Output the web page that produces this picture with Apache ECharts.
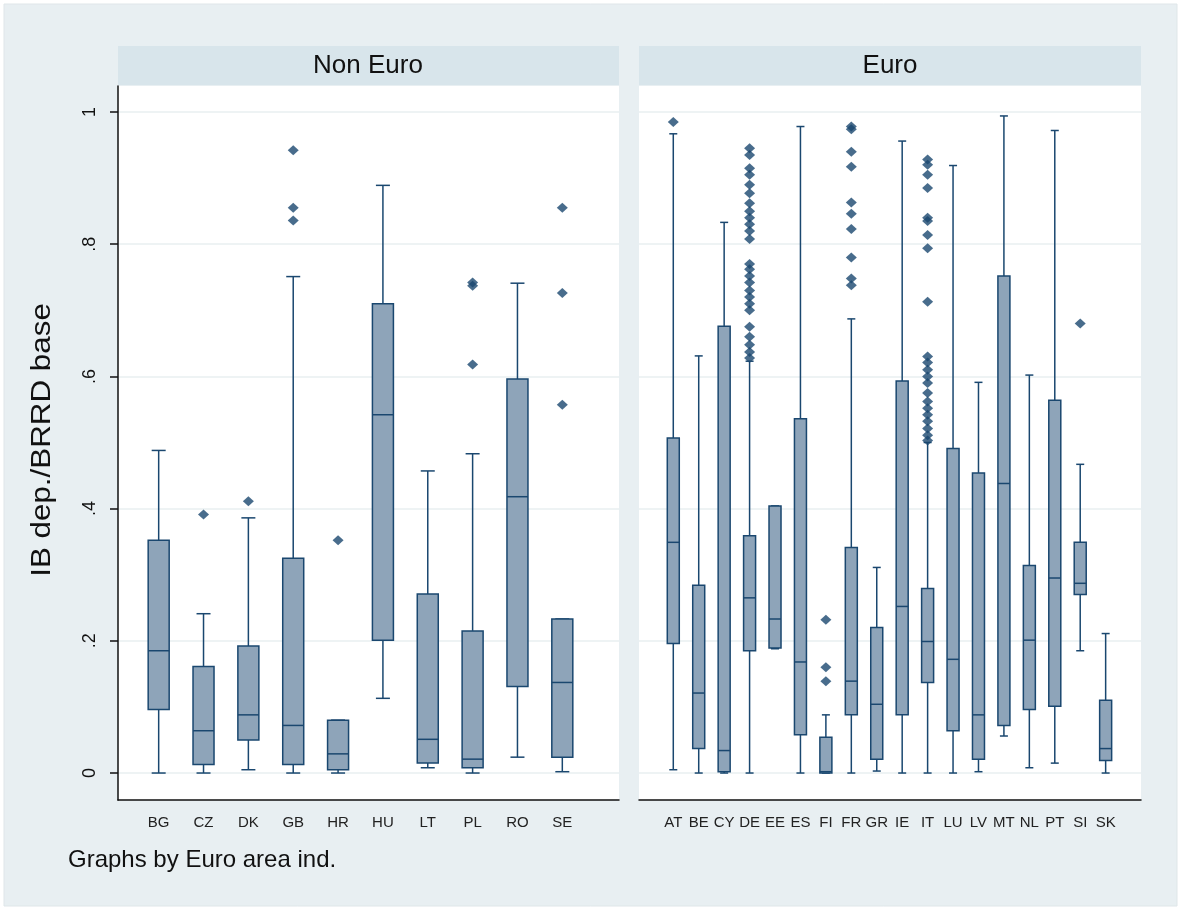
<!DOCTYPE html>
<html>
<head>
<meta charset="utf-8">
<script src="https://cdn.jsdelivr.net/npm/echarts@6/dist/echarts.min.js"></script>
<style>
html,body{margin:0;padding:0;background:#ffffff;}
#chart{width:1181px;height:910px;}
</style>
</head>
<body>
<div id="chart"></div>
<script>
// ---------------- DATA ----------------
const nonEuroCats = ['BG','CZ','DK','GB','HR','HU','LT','PL','RO','SE'];
// [lower whisker, Q1, median, Q3, upper whisker]
const nonEuroBoxes = [
  [0.000, 0.096, 0.185, 0.352, 0.488],
  [0.000, 0.013, 0.064, 0.161, 0.241],
  [0.005, 0.050, 0.088, 0.192, 0.386],
  [0.000, 0.013, 0.072, 0.325, 0.751],
  [0.000, 0.005, 0.029, 0.080, 0.080],
  [0.113, 0.201, 0.542, 0.710, 0.889],
  [0.008, 0.015, 0.051, 0.271, 0.457],
  [0.000, 0.008, 0.021, 0.215, 0.483],
  [0.024, 0.131, 0.418, 0.596, 0.741],
  [0.002, 0.024, 0.137, 0.233, 0.233]
];
const nonEuroOutliers = [
  [],
  [0.391],
  [0.411],
  [0.942, 0.855, 0.836],
  [0.352],
  [],
  [],
  [0.742, 0.737, 0.618],
  [],
  [0.855, 0.726, 0.557]
];

const euroCats = ['AT','BE','CY','DE','EE','ES','FI','FR','GR','IE','IT','LU','LV','MT','NL','PT','SI','SK'];
const euroBoxes = [
  [0.005, 0.196, 0.349, 0.507, 0.967],
  [0.000, 0.037, 0.121, 0.284, 0.631],
  [0.000, 0.002, 0.034, 0.676, 0.833],
  [0.000, 0.185, 0.265, 0.359, 0.623],
  [0.188, 0.189, 0.233, 0.404, 0.404],
  [0.000, 0.058, 0.168, 0.536, 0.978],
  [0.000, 0.000, 0.002, 0.054, 0.088],
  [0.000, 0.088, 0.139, 0.341, 0.687],
  [0.003, 0.021, 0.104, 0.220, 0.311],
  [0.000, 0.088, 0.252, 0.593, 0.956],
  [0.000, 0.137, 0.199, 0.279, 0.500],
  [0.000, 0.064, 0.172, 0.491, 0.919],
  [0.002, 0.021, 0.088, 0.454, 0.591],
  [0.056, 0.072, 0.438, 0.752, 0.994],
  [0.008, 0.096, 0.201, 0.314, 0.602],
  [0.015, 0.101, 0.295, 0.564, 0.972],
  [0.185, 0.270, 0.287, 0.349, 0.467],
  [0.000, 0.019, 0.037, 0.110, 0.211]
];
const euroOutliers = [
  [0.985],
  [],
  [],
  [0.945, 0.935, 0.915, 0.905, 0.890, 0.877, 0.862, 0.850, 0.840, 0.830, 0.820, 0.808,
   0.770, 0.762, 0.752, 0.742, 0.730, 0.720, 0.710, 0.700, 0.675, 0.660, 0.648, 0.637, 0.628],
  [],
  [],
  [0.232, 0.160, 0.139],
  [0.978, 0.974, 0.940, 0.917, 0.863, 0.846, 0.823, 0.780, 0.748, 0.738],
  [],
  [],
  [0.928, 0.920, 0.905, 0.885, 0.840, 0.835, 0.814, 0.794, 0.713, 0.630, 0.621, 0.610,
   0.600, 0.590, 0.575, 0.562, 0.552, 0.542, 0.532, 0.521, 0.511, 0.503],
  [],
  [],
  [],
  [],
  [],
  [0.680],
  []
];

const yTicks = [0, 0.2, 0.4, 0.6, 0.8, 1];
const panelTitles = ['Non Euro', 'Euro'];
const yTitle = 'IB dep./BRRD base';
const noteText = 'Graphs by Euro area ind.';

// ---------------- STYLE ----------------
const NAVY = '#1a476f';
const BOXFILL = '#8ea4b9';
const BG = '#e8eff2';
const STRIP = '#d8e5eb';
const GRIDC = '#e9eff1';
const FONT = "'Liberation Sans', Arial, sans-serif";

function boxRows(boxes){ return boxes.map((b,i)=>[i].concat(b)); }
function outRows(outs){ const r=[]; outs.forEach((arr,i)=>arr.forEach(v=>r.push([i,v]))); return r; }

function makeRender(boxW, capW){
  return function(params, api){
    const x = api.value(0);
    const lo = api.coord([x, api.value(1)]);
    const q1 = api.coord([x, api.value(2)]);
    const md = api.coord([x, api.value(3)]);
    const q3 = api.coord([x, api.value(4)]);
    const hi = api.coord([x, api.value(5)]);
    const cx = lo[0];
    const ls = {stroke: NAVY, lineWidth: 1.5, fill: null};
    const kids = [];
    if (Math.abs(q1[1]-lo[1]) > 0.5) {
      kids.push({type:'line', shape:{x1:cx,y1:q1[1],x2:cx,y2:lo[1]}, style:ls});
    }
    kids.push({type:'line', shape:{x1:cx-capW/2,y1:lo[1],x2:cx+capW/2,y2:lo[1]}, style:ls});
    if (Math.abs(q3[1]-hi[1]) > 0.5) {
      kids.push({type:'line', shape:{x1:cx,y1:q3[1],x2:cx,y2:hi[1]}, style:ls});
    }
    kids.push({type:'line', shape:{x1:cx-capW/2,y1:hi[1],x2:cx+capW/2,y2:hi[1]}, style:ls});
    kids.push({type:'rect', shape:{x:cx-boxW/2, y:q3[1], width:boxW, height:Math.max(q1[1]-q3[1],1)},
      style:{fill:BOXFILL, stroke:NAVY, lineWidth:1.5}});
    kids.push({type:'line', shape:{x1:cx-boxW/2,y1:md[1],x2:cx+boxW/2,y2:md[1]}, style:ls});
    return {type:'group', children:kids};
  };
}

const Y_MIN = -0.0408, Y_MAX = 1.0393;
const GRID_TOP = 86, GRID_H = 714;

function yAxisFor(idx, showLeft){
  return {
    type:'value', gridIndex: idx, min: Y_MIN, max: Y_MAX,
    axisLine:{show: showLeft, onZero:false, lineStyle:{color:'#111', width:1.5}},
    axisTick:{show: showLeft, length:8, customValues: yTicks, lineStyle:{color:'#111', width:1.5}},
    axisLabel:{show: showLeft, customValues: yTicks, rotate:90, fontSize:18, fontFamily:FONT, color:'#111', margin:19,
      formatter: v => { if (Math.abs(v) < 1e-9) return '0'; if (Math.abs(v-1) < 1e-9) return '1'; return '.' + Math.round(v*10); }},
    splitLine:{show:true, lineStyle:{color:GRIDC, width:1.5}}
  };
}
function xAxisFor(idx, cats, mn, mx){
  return {
    type:'value', gridIndex: idx, min: mn, max: mx,
    axisLine:{show:true, onZero:false, lineStyle:{color:'#111', width:1.5}},
    axisTick:{show:false},
    splitLine:{show:false},
    axisLabel:{customValues: cats.map((c,i)=>i), fontSize:15, fontFamily:FONT, color:'#222', margin:15,
      formatter: v => cats[Math.round(v)] || ''}
  };
}

const chart = echarts.init(document.getElementById('chart'), null, {renderer:'canvas'});
chart.setOption({
  backgroundColor: '#ffffff',
  animation: false,
  graphic: [
    {type:'rect', z:-10, shape:{x:4, y:4, width:1173, height:902}, style:{fill:BG, stroke:'#dfe6e9', lineWidth:1}},
    {type:'rect', shape:{x:118, y:46, width:501, height:39}, style:{fill:STRIP}},
    {type:'rect', shape:{x:639, y:46, width:502, height:39}, style:{fill:STRIP}},
    {type:'text', x:368, y:66, style:{text:panelTitles[0], font:'26px '+FONT, fill:'#111', textAlign:'center', textVerticalAlign:'middle'}},
    {type:'text', x:890, y:66, style:{text:panelTitles[1], font:'26px '+FONT, fill:'#111', textAlign:'center', textVerticalAlign:'middle'}},
    {type:'text', x:42, y:440, rotation:Math.PI/2, scaleX:1.12, style:{text:yTitle, font:'28px '+FONT, fill:'#111', textAlign:'center', textVerticalAlign:'middle'}},
    {type:'text', x:68, y:860, style:{text:noteText, font:'24px '+FONT, fill:'#111', textAlign:'left', textVerticalAlign:'middle'}}
  ],
  grid: [
    {left:118, top:GRID_TOP, width:501, height:GRID_H, show:true, backgroundColor:'#ffffff', borderWidth:0},
    {left:639, top:GRID_TOP, width:502, height:GRID_H, show:true, backgroundColor:'#ffffff', borderWidth:0}
  ],
  xAxis: [
    xAxisFor(0, nonEuroCats, -0.907, 10.264),
    xAxisFor(1, euroCats, -1.348, 18.39)
  ],
  yAxis: [ yAxisFor(0, true), yAxisFor(1, false) ],
  series: [
    {type:'custom', xAxisIndex:0, yAxisIndex:0, renderItem: makeRender(21, 14),
     encode:{x:0, y:[1,2,3,4,5]}, data: boxRows(nonEuroBoxes), z:3},
    {type:'custom', xAxisIndex:1, yAxisIndex:1, renderItem: makeRender(12, 8),
     encode:{x:0, y:[1,2,3,4,5]}, data: boxRows(euroBoxes), z:3},
    {type:'scatter', xAxisIndex:0, yAxisIndex:0, symbol:'diamond', symbolSize:[11,10],
     itemStyle:{color:NAVY}, data: outRows(nonEuroOutliers), z:4},
    {type:'scatter', xAxisIndex:1, yAxisIndex:1, symbol:'diamond', symbolSize:[11,10],
     itemStyle:{color:NAVY}, data: outRows(euroOutliers), z:4}
  ]
});
</script>
</body>
</html>
